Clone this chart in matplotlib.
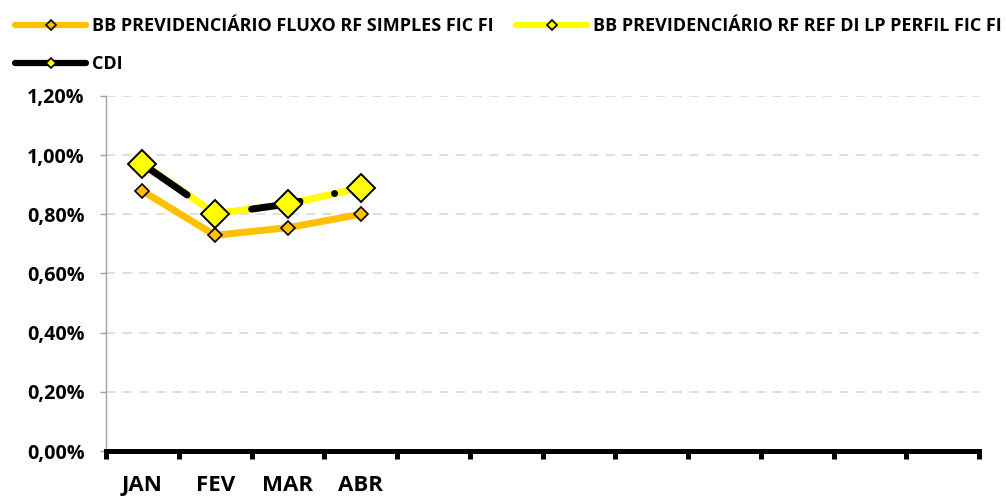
import matplotlib
matplotlib.use("Agg")
import matplotlib.pyplot as plt
from matplotlib.lines import Line2D
from matplotlib.ticker import FuncFormatter, FixedLocator

plt.rcParams['font.family'] = ['Open Sans', 'DejaVu Sans']
plt.rcParams['font.weight'] = 'bold'

# twelve month slots on the axis, only the first four are labelled / filled
months = ["JAN", "FEV", "MAR", "ABR", "", "", "", "", "", "", "", ""]
fluxo = [0.879, 0.729, 0.755, 0.800]      # BB PREV FLUXO RF SIMPLES
perfil = [0.971, 0.803, 0.834, 0.890]     # BB PREV RF REF DI LP PERFIL
cdi = [0.970, 0.800, 0.835, 0.890]        # CDI

lbl_fluxo = "BB PREVIDENCIÁRIO FLUXO RF SIMPLES FIC FI"
lbl_perfil = "BB PREVIDENCIÁRIO RF REF DI LP PERFIL FIC FI"
lbl_cdi = "CDI"

ORANGE = "#FFC000"
YELLOW = "#FFFF00"

fig = plt.figure(figsize=(10.06, 4.96), dpi=100)
ax = fig.add_axes([0.1054, 0.0907, 0.8678, 0.7158])

x = list(range(len(fluxo)))

ax.plot(x, fluxo, color=ORANGE, lw=5, solid_capstyle='round', zorder=3,
        marker='D', ms=7, mfc=ORANGE, mec='black', mew=1.2)
ax.plot(x, perfil, color=YELLOW, lw=5, solid_capstyle='round', zorder=3,
        marker='D', ms=7, mfc=YELLOW, mec='black', mew=1.2)
ax.plot(x, cdi, color='black', lw=5, dash_capstyle='round', zorder=4,
        linestyle=(16.5, (7.06, 5.1, 0.01, 5.1)),
        marker='D', ms=14.5, mfc=YELLOW, mec='black', mew=1.4)

ax.set_xlim(-0.5, len(months) - 0.5)
ax.set_ylim(0, 1.2)
ax.set_yticks([0, 0.2, 0.4, 0.6, 0.8, 1.0, 1.2])
ax.yaxis.set_major_formatter(FuncFormatter(lambda v, p: f"{v:.2f}%".replace('.', ',')))
ax.yaxis.grid(True, color='#d9d9d9', lw=1.2, linestyle=(0, (5.5, 4.5)))
ax.set_axisbelow(True)

# category boundaries as major ticks, labels on centres
ax.xaxis.set_major_locator(FixedLocator([i - 0.5 for i in range(len(months) + 1)]))
ax.xaxis.set_major_formatter(FuncFormatter(lambda v, p: ""))
ax.xaxis.set_minor_locator(FixedLocator(list(range(len(months)))))
ax.set_xticklabels(months, minor=True)
ax.tick_params(axis='x', which='major', direction='out', length=5.4, width=3.6,
               color='black')
ax.tick_params(axis='x', which='minor', length=0, pad=17, labelsize=16)
ax.tick_params(axis='y', direction='out', length=4.3, width=1, color='#a0a0a0',
               labelsize=14.2, pad=11)

for s in ['top', 'right']:
    ax.spines[s].set_visible(False)
ax.spines['left'].set_color('#a0a0a0')
ax.spines['left'].set_linewidth(1)
ax.spines['bottom'].set_color('black')
ax.spines['bottom'].set_linewidth(3.6)
ax.spines['bottom'].set_zorder(5)

handles = [
    Line2D([], [], color=ORANGE, lw=4.5, solid_capstyle='round',
           marker='D', ms=5.5, mfc=ORANGE, mec='black', mew=1.2),
    Line2D([], [], color='black', lw=4.5, solid_capstyle='round',
           marker='D', ms=5.5, mfc=YELLOW, mec='black', mew=1.2),
    Line2D([], [], color=YELLOW, lw=4.5, solid_capstyle='round',
           marker='D', ms=5.5, mfc=YELLOW, mec='black', mew=1.2),
]
fig.legend(handles, [lbl_fluxo, lbl_cdi, lbl_perfil], ncol=2,
           loc='upper left', bbox_to_anchor=(0.015, 0.966), frameon=False,
           prop={'weight': 'bold', 'size': 13}, handlelength=3.95,
           handletextpad=0.3, columnspacing=1.25, labelspacing=1.13,
           borderpad=0, borderaxespad=0)

fig.savefig("out.png", dpi=100)
